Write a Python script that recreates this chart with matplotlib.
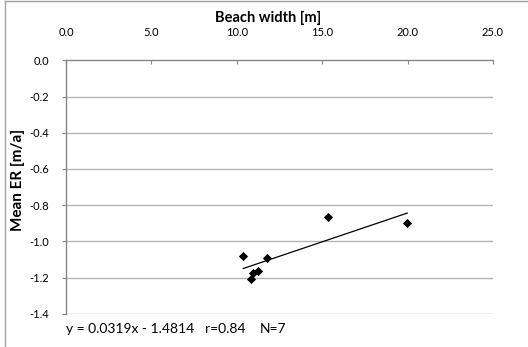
import matplotlib
matplotlib.use("Agg")
import matplotlib.pyplot as plt
from matplotlib.lines import Line2D

plt.rcParams['font.family'] = ['Lato', 'DejaVu Sans']

beach_width = [10.38, 11.77, 15.36, 19.98, 10.81, 10.97, 11.22]
mean_er = [-1.081, -1.094, -0.866, -0.901, -1.207, -1.177, -1.166]
slope, intercept = 0.0319, -1.4814
xticks = [0, 5, 10, 15, 20, 25]
yticks = [0.0, -0.2, -0.4, -0.6, -0.8, -1.0, -1.2, -1.4]

W, H = 528, 347
fig = plt.figure(figsize=(W / 100, H / 100), dpi=100)
L, R, T, B = 66, 493, 60.3, 313.7
ax = fig.add_axes([L / W, 1 - B / H, (R - L) / W, (B - T) / H])

ax.set_xlim(0, 25)
ax.set_ylim(-1.4, 0)
grid_c = '#b3b3b3'
axis_c = '#868686'
for y in yticks[1:]:
    ax.axhline(y, color=grid_c, lw=1.0, zorder=1)

ax.scatter(beach_width, mean_er, marker='D', s=22, color='black', zorder=3, linewidths=0)
xmin, xmax = min(beach_width), max(beach_width)
ax.plot([xmin, xmax], [slope * xmin + intercept, slope * xmax + intercept], color='black', lw=0.9, zorder=2)

ax.xaxis.tick_top()
ax.set_xticks(xticks)
ax.set_xticklabels([f"{v:.1f}" for v in xticks], fontsize=8)
ax.set_yticks(yticks)
ax.set_yticklabels([f"{v:.1f}" for v in yticks], fontsize=8)
ax.tick_params(axis='x', direction='in', length=3, color=axis_c, pad=16)
ax.tick_params(axis='y', direction='out', length=3, color=axis_c, pad=9)
for s in ['right', 'bottom']:
    ax.spines[s].set_visible(False)
for s in ['top', 'left']:
    ax.spines[s].set_color(axis_c)
    ax.spines[s].set_linewidth(1.0)

fig.text(268 / W, 1 - 18 / H, "Beach width [m]", ha='center', va='center', fontsize=10.5, fontweight='bold')
fig.text(18 / W, 1 - 180 / H, "Mean ER [m/a]", ha='center', va='center', rotation=90, fontsize=11, fontweight='bold')

ty = 1 - 329 / H
fig.text(66 / W, ty, f"y = {slope}x - {abs(intercept)}", ha='left', va='center', fontsize=10)
fig.text(205 / W, ty, "r=0.84", ha='left', va='center', fontsize=10)
fig.text(260 / W, ty, "N=7", ha='left', va='center', fontsize=10)

# chart frame (left and top edges visible)
fig.add_artist(Line2D([5 / W, 5 / W], [0, 1 - 1 / H], transform=fig.transFigure, color='#a0a0a0', lw=1))
fig.add_artist(Line2D([5 / W, 1], [1 - 1 / H, 1 - 1 / H], transform=fig.transFigure, color='#a0a0a0', lw=1))

fig.savefig("out.png", dpi=100)
